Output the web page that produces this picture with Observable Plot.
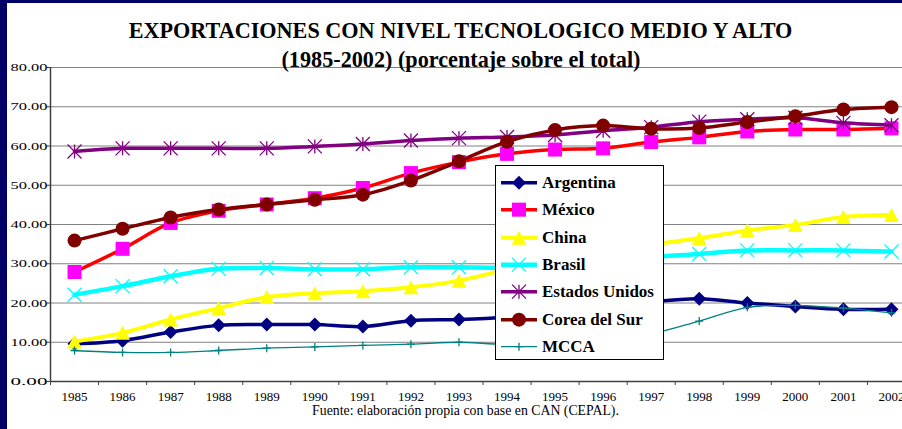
<!DOCTYPE html>
<html><head><meta charset="utf-8">
<script src="https://cdn.jsdelivr.net/npm/d3@7"></script>
<script src="https://cdn.jsdelivr.net/npm/@observablehq/plot@0.6"></script>
<style>
html,body{margin:0;padding:0;background:#fff;}
#wrap{position:relative;width:902px;height:429px;overflow:hidden;background:#fff;font-family:"Liberation Serif","Times New Roman",serif;}
#chart{position:absolute;left:0;top:0;}
#chart svg, #chart svg text{font-family:"Liberation Serif","Times New Roman",serif !important;}
#lstrip{position:absolute;left:0;top:0;width:7px;height:429px;background:#000066;}
#tstrip{position:absolute;left:0;top:0;width:902px;height:3px;background:#000066;}
.t{position:absolute;font-weight:bold;white-space:nowrap;line-height:1;transform:translateX(-50%);color:#000;}
#title{left:460.5px;top:19.7px;font-size:22.2px;}
#subtitle{left:461px;top:49.2px;font-size:22.2px;}
#foot{position:absolute;left:465.5px;top:406.3px;font-size:13.8px;line-height:10px;white-space:nowrap;transform:translateX(-50%);}
#legend{position:absolute;left:495px;top:165px;width:167px;height:193px;background:#fff;border:1px solid #000;}
.row{position:absolute;left:0;height:27.3px;line-height:27.3px;font-size:17px;font-weight:bold;white-space:nowrap;}
.row svg{position:absolute;left:5px;top:0;}
.row span{position:absolute;left:46px;top:0;}
</style>
</head><body>
<div id="wrap">
  <div id="chart"></div>
  <div id="lstrip"></div>
  <div id="tstrip"></div>
  <div id="legend"></div>
  <div class="t" id="title">EXPORTACIONES CON NIVEL TECNOLOGICO MEDIO Y ALTO</div>
  <div class="t" id="subtitle">(1985-2002) (porcentaje sobre el total)</div>
  <div id="foot">Fuente: elaboración propia con base en CAN (CEPAL).</div>
</div>
<script>
const years = [1985,1986,1987,1988,1989,1990,1991,1992,1993,1994,1995,1996,1997,1998,1999,2000,2001,2002];
const argentina     = [9.6,10.4,12.6,14.3,14.5,14.5,14.0,15.5,15.8,16.4,17.5,18.8,20.3,21.1,20.0,19.1,18.4,18.4];
const mexico        = [27.9,33.8,40.4,43.5,45.1,46.7,49.3,53.1,55.9,58.0,59.1,59.4,61.0,62.2,63.7,64.2,64.2,64.5];
const china         = [10.2,12.4,15.8,18.7,21.5,22.5,23.0,24.0,25.7,28.5,30.5,32.6,34.8,36.5,38.5,39.9,41.9,42.4];
const brasil        = [22.1,24.3,26.8,28.7,28.9,28.6,28.6,29.1,29.1,29.0,29.6,30.6,31.7,32.5,33.4,33.4,33.4,33.1];
const estadosUnidos = [58.6,59.4,59.4,59.4,59.4,59.9,60.5,61.4,62.0,62.3,62.8,63.9,64.8,66.2,66.8,67.2,65.9,65.3];
const coreaDelSur   = [35.9,38.9,41.8,43.8,45.1,46.3,47.6,51.2,56.1,61.1,64.1,65.2,64.4,64.6,66.1,67.6,69.3,69.9];
const mcca          = [7.9,7.4,7.4,7.9,8.5,8.8,9.2,9.5,10.0,9.5,10.5,11.3,12.2,15.4,18.9,19.4,18.7,17.5];
const seriesNames = ["Argentina","México","China","Brasil","Estados Unidos","Corea del Sur","MCCA"];
const seriesValues = [argentina, mexico, china, brasil, estadosUnidos, coreaDelSur, mcca];
const yTicks = [0,10,20,30,40,50,60,70,80];

const R = s => Math.sqrt(s/Math.PI);
const symbols = {
  diamond:{draw(c,s){const r=R(s);c.moveTo(0,-r);c.lineTo(r,0);c.lineTo(0,r);c.lineTo(-r,0);c.closePath();}},
  square:{draw(c,s){const r=R(s);c.rect(-r,-r,2*r,2*r);}},
  triangle:{draw(c,s){const r=R(s);c.moveTo(0,-r);c.lineTo(r*1.05,r);c.lineTo(-r*1.05,r);c.closePath();}},
  times:{draw(c,s){const r=R(s);c.moveTo(-r,-r);c.lineTo(r,r);c.moveTo(r,-r);c.lineTo(-r,r);}},
  star:{draw(c,s){const r=R(s);c.moveTo(-r,-r);c.lineTo(r,r);c.moveTo(r,-r);c.lineTo(-r,r);c.moveTo(0,-r);c.lineTo(0,r);}},
  circle:{draw(c,s){const r=R(s);c.moveTo(r,0);c.arc(0,0,r,0,2*Math.PI);}},
  plus:{draw(c,s){const r=R(s);c.moveTo(-r,0);c.lineTo(r,0);c.moveTo(0,-r);c.lineTo(0,r);}}
};
const styles = [
  {line:"#000080", lw:3.5, sym:"diamond", r:7, fill:"#000080", stroke:"none", sw:0},
  {line:"#FF0000", lw:3.5, sym:"square", r:7, fill:"#FF00FF", stroke:"none", sw:0},
  {line:"#FFFF00", lw:4, sym:"triangle", r:7, fill:"#FFFF00", stroke:"none", sw:0},
  {line:"#00FFFF", lw:4.5, sym:"times", r:7, fill:"none", stroke:"#00FFFF", sw:1.3},
  {line:"#800080", lw:3.5, sym:"star", r:7, fill:"none", stroke:"#800080", sw:1.3},
  {line:"#800000", lw:3.5, sym:"circle", r:7, fill:"#800000", stroke:"none", sw:0},
  {line:"#008080", lw:1.3, sym:"plus", r:4, fill:"none", stroke:"#008080", sw:1.3}
];

const seriesMarks = [];
seriesValues.forEach((vals, i) => {
  const st = styles[i];
  const data = years.map((y, j) => ({year: y, v: vals[j], name: seriesNames[i]}));
  seriesMarks.push(Plot.line(data, {x:"year", y:"v", curve:"catmull-rom", stroke: st.line, strokeWidth: st.lw}));
  seriesMarks.push(Plot.dot(data, {x:"year", y:"v", symbol: symbols[st.sym], r: st.r, fill: st.fill, stroke: st.stroke, strokeWidth: st.sw}));
});

const boundaries = years.map(y => y - 0.5).concat([2002.5]);

const plot = Plot.plot({
  width: 902, height: 429,
  marginTop: 67, marginBottom: 48, marginLeft: 50, marginRight: 0,
  style: {fontFamily: '"Liberation Serif","Times New Roman",serif', background: "#fff", color: "#000"},
  x: {type: "linear", domain: [1984.5, 2002.5], range: [50, 915]},
  y: {domain: [0, 80], range: [381, 67]},
  marks: [
    Plot.gridY(yTicks, {stroke: "#808080", strokeOpacity: 1, strokeWidth: 1}),
    Plot.axisY(yTicks, {tickSize: 3, tickPadding: 0, tickFormat: d3.format(".2f"), fontSize: 11, stroke: "#404040", fill: "#000", label: null}),
    Plot.axisX(boundaries, {tickSize: 4, tickFormat: () => "", stroke: "#404040", label: null}),
    Plot.axisX(years, {tickSize: 0, tickPadding: 10.5, tickFormat: d => String(d), fontSize: 13, fill: "#000", label: null}),
    Plot.ruleX([1984.5], {stroke: "#404040", strokeWidth: 1.5}),
    Plot.ruleY([0], {stroke: "#404040", strokeWidth: 1.5}),
    ...seriesMarks
  ]
});
document.getElementById("chart").appendChild(plot);
// y labels appear horizontally wide in the reference
plot.querySelectorAll('g[aria-label="y-axis tick label"] text').forEach(t => {
  t.setAttribute("textLength", "37");
  t.setAttribute("lengthAdjust", "spacingAndGlyphs");
});

// legend
const legend = document.getElementById("legend");
const ns = "http://www.w3.org/2000/svg";
seriesNames.forEach((name, i) => {
  const st = styles[i];
  const row = document.createElement("div");
  row.className = "row";
  row.style.top = (3 + 27.3 * i) + "px";
  const svg = document.createElementNS(ns, "svg");
  svg.setAttribute("width", "38"); svg.setAttribute("height", "27.3");
  const ln = document.createElementNS(ns, "line");
  ln.setAttribute("x1", 0); ln.setAttribute("x2", 36);
  ln.setAttribute("y1", 13.65); ln.setAttribute("y2", 13.65);
  ln.setAttribute("stroke", st.line); ln.setAttribute("stroke-width", st.lw);
  svg.appendChild(ln);
  const p = d3.path();
  symbols[st.sym].draw(p, Math.PI * st.r * st.r);
  const path = document.createElementNS(ns, "path");
  path.setAttribute("d", p.toString());
  path.setAttribute("transform", "translate(18,13.65)");
  path.setAttribute("fill", st.fill); path.setAttribute("stroke", st.stroke);
  path.setAttribute("stroke-width", st.sw);
  svg.appendChild(path);
  row.appendChild(svg);
  const span = document.createElement("span");
  span.textContent = name;
  row.appendChild(span);
  legend.appendChild(row);
});
</script>
</body></html>
